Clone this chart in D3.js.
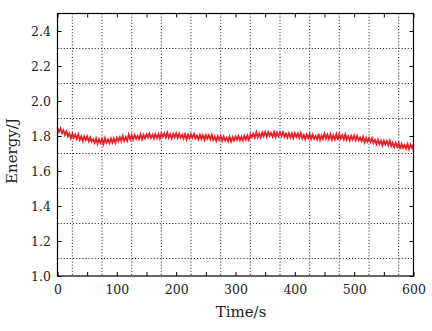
<!DOCTYPE html>
<html>
<head>
<meta charset="utf-8">
<script src="https://cdn.jsdelivr.net/npm/d3@7"></script>
<style>
html,body{margin:0;padding:0;background:#fff;}
svg{display:block;}
</style>
</head>
<body>
<svg id="chart" width="432" height="331"></svg>
<script>
// ---- data ----
const timeStep = 2.5;
const energy = [
1.844,1.824,1.844,1.816,1.832,1.806,1.826,1.798,1.815,1.787,
1.812,1.790,1.808,1.783,1.809,1.778,1.797,1.772,1.797,1.776,
1.797,1.770,1.792,1.768,1.782,1.761,1.786,1.756,1.781,1.761,
1.783,1.754,1.787,1.762,1.780,1.760,1.785,1.762,1.785,1.761,
1.790,1.772,1.793,1.771,1.800,1.772,1.794,1.773,1.808,1.781,
1.805,1.780,1.806,1.784,1.801,1.782,1.809,1.781,1.807,1.787,
1.810,1.792,1.814,1.789,1.807,1.786,1.811,1.788,1.811,1.786,
1.814,1.795,1.815,1.791,1.819,1.790,1.810,1.786,1.812,1.792,
1.815,1.789,1.813,1.790,1.806,1.785,1.811,1.782,1.808,1.787,
1.809,1.790,1.812,1.785,1.803,1.781,1.806,1.782,1.804,1.778,
1.805,1.785,1.804,1.780,1.807,1.777,1.796,1.772,1.798,1.778,
1.800,1.773,1.797,1.774,1.790,1.770,1.796,1.768,1.794,1.774,
1.797,1.778,1.801,1.776,1.795,1.775,1.801,1.780,1.803,1.779,
1.809,1.792,1.813,1.791,1.821,1.793,1.814,1.792,1.819,1.799,
1.823,1.797,1.822,1.800,1.816,1.796,1.822,1.793,1.819,1.798,
1.820,1.800,1.822,1.795,1.813,1.791,1.816,1.792,1.814,1.788,
1.815,1.795,1.814,1.790,1.817,1.787,1.806,1.782,1.808,1.788,
1.810,1.783,1.807,1.784,1.800,1.780,1.812,1.777,1.803,1.783,
1.813,1.786,1.808,1.782,1.810,1.779,1.804,1.781,1.810,1.777,
1.810,1.785,1.805,1.781,1.809,1.779,1.799,1.776,1.801,1.780,
1.803,1.776,1.800,1.776,1.791,1.770,1.795,1.764,1.789,1.767,
1.788,1.767,1.788,1.760,1.777,1.754,1.778,1.753,1.774,1.747,
1.773,1.752,1.771,1.746,1.773,1.742,1.761,1.736,1.761,1.739,
1.760,1.725,1.756,1.732,1.748,1.728,1.754,1.725,1.751,1.731,
1.754
];
const xTicks = [0,50,100,150,200,250,300,350,400,450,500,550,600];
const xTickLabels = [0,100,200,300,400,500,600];
const xGrid = [25,75,125,175,225,275,325,375,425,475,525,575];
const yTicks = [1.0,1.2,1.4,1.6,1.8,2.0,2.2,2.4];
const yGrid = [1.1,1.3,1.5,1.7,1.9,2.1,2.3];
const xLabel = "Time/s";
const yLabel = "Energy/J";

(function(){
// ---- layout ----
const L = 57.5, R = 413.5, T = 13.5, B = 276;
const svg = d3.select("#chart");
const x = d3.scaleLinear().domain([0,600]).range([L,R]);
const y = d3.scaleLinear().domain([1.0,2.5]).range([B,T]);
const fontFam = "'DejaVu Serif', serif";

// grid
const g = svg.append("g");
g.selectAll("line.vg").data(xGrid).join("line")
  .attr("x1", d=>x(d)).attr("x2", d=>x(d)).attr("y1", T).attr("y2", B)
  .attr("stroke","#111").attr("stroke-width",0.9).attr("stroke-dasharray","1.1,2");
g.selectAll("line.hg").data(yGrid).join("line")
  .attr("y1", d=>y(d)).attr("y2", d=>y(d)).attr("x1", L).attr("x2", R)
  .attr("stroke","#111").attr("stroke-width",0.9).attr("stroke-dasharray","1.1,2");

// data line
const line = d3.line().x((d,i)=>x(i*timeStep)).y(d=>y(d));
svg.append("path").datum(energy)
  .attr("d", line).attr("fill","none")
  .attr("stroke","#e4222a").attr("stroke-width",1.8).attr("stroke-linejoin","miter");

// axes
const fmtX = d => xTickLabels.includes(d) ? String(d) : "";
const axB = svg.append("g").attr("transform",`translate(0,${B})`)
  .call(d3.axisBottom(x).tickValues(xTicks).tickFormat(fmtX).tickSizeInner(-4).tickSizeOuter(0).tickPadding(9));
const axT = svg.append("g").attr("transform",`translate(0,${T})`)
  .call(d3.axisTop(x).tickValues(xTicks).tickFormat("").tickSizeInner(-4).tickSizeOuter(0));
const axL = svg.append("g").attr("transform",`translate(${L},0)`)
  .call(d3.axisLeft(y).tickValues(yTicks).tickFormat(d3.format(".1f")).tickSizeInner(-4).tickSizeOuter(0).tickPadding(6.5));
const axR = svg.append("g").attr("transform",`translate(${R},0)`)
  .call(d3.axisRight(y).tickValues(yTicks).tickFormat("").tickSizeInner(-4).tickSizeOuter(0));
[axB,axT,axL,axR].forEach(a=>{
  a.select(".domain").remove();
  a.selectAll(".tick line").attr("stroke","#000").attr("stroke-width",1);
  a.selectAll("text").attr("font-family",fontFam).attr("font-size","12.5px").attr("fill","#222");
});

// frame
svg.append("rect").attr("x",L).attr("y",T).attr("width",R-L).attr("height",B-T)
  .attr("fill","none").attr("stroke","#000").attr("stroke-width",1.2);

// titles
svg.append("text").attr("x",241).attr("y",317).attr("text-anchor","middle")
  .attr("font-family",fontFam).attr("font-size","15px").attr("fill","#222").text(xLabel);
svg.append("text").attr("transform","translate(16.5,151) rotate(-90)").attr("text-anchor","middle")
  .attr("font-family",fontFam).attr("font-size","15px").attr("fill","#222").text(yLabel);
})();
</script>
</body>
</html>
